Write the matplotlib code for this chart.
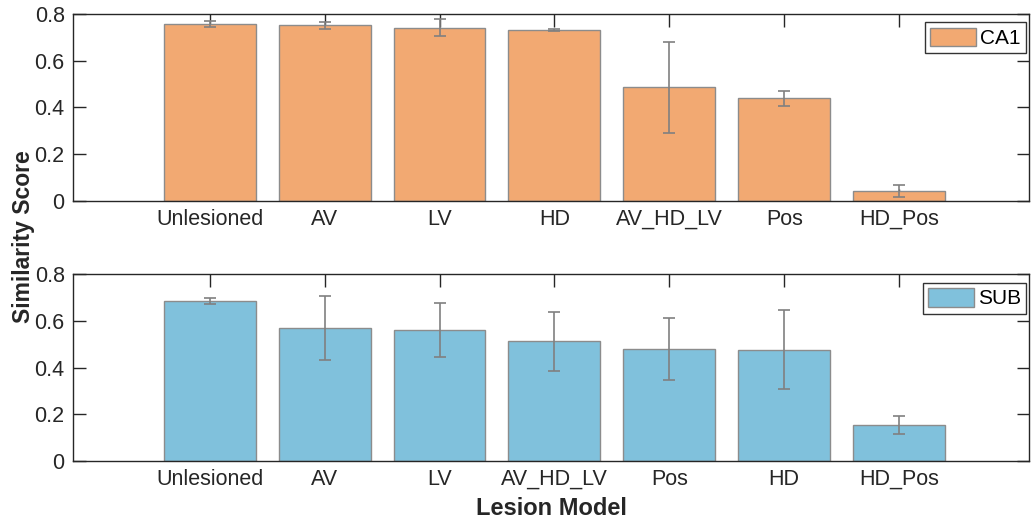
import numpy as np
import matplotlib.pyplot as plt

plt.rcParams['font.family'] = ['Liberation Sans', 'DejaVu Sans']

# CA1 data
ca1_labels = ['Unlesioned', 'AV', 'LV', 'HD', 'AV_HD_LV', 'Pos', 'HD_Pos']
ca1_mean = [0.757, 0.753, 0.742, 0.733, 0.487, 0.439, 0.040]
ca1_err = [0.014, 0.015, 0.035, 0.004, 0.195, 0.032, 0.026]

# SUB data
sub_labels = ['Unlesioned', 'AV', 'LV', 'AV_HD_LV', 'Pos', 'HD', 'HD_Pos']
sub_mean = [0.687, 0.570, 0.561, 0.513, 0.479, 0.477, 0.153]
sub_err = [0.013, 0.138, 0.116, 0.126, 0.134, 0.171, 0.038]

fig = plt.figure(figsize=(10.31, 5.2), dpi=100)
ax1 = fig.add_axes([0.0708, 0.614, 0.9272, 0.359])
ax2 = fig.add_axes([0.0708, 0.114, 0.9272, 0.3585])

txt = '#262626'


def panel(ax, labels, mean, err, color, name):
    x = np.arange(1, len(labels) + 1)
    ax.bar(x, mean, width=0.8, color=color, edgecolor='#8c8c8c',
           linewidth=1.0, label=name, zorder=2)
    ax.errorbar(x, mean, yerr=err, fmt='none', ecolor='#808080',
                elinewidth=1.2, capsize=4, capthick=1.2, zorder=3)
    ax.set_xlim(-0.19, 8.13)
    ax.set_ylim(0, 0.8)
    ax.set_xticks(x)
    ax.set_xticklabels(labels)
    ax.set_yticks([0, 0.2, 0.4, 0.6, 0.8])
    ax.set_yticklabels(['0', '0.2', '0.4', '0.6', '0.8'])
    ax.tick_params(direction='in', length=9, width=1, colors=txt,
                   labelsize=15.5, top=True, right=True, pad=6)
    for s in ax.spines.values():
        s.set_color(txt)
        s.set_linewidth(1.0)
    leg = ax.legend(loc='upper right', bbox_to_anchor=(0.997, 0.955),
                    fontsize=15, frameon=True, fancybox=False,
                    edgecolor='black', handlelength=2.2, handleheight=1.0,
                    handletextpad=0.2, borderpad=0.25, borderaxespad=0)
    leg.get_frame().set_linewidth(1.0)


panel(ax1, ca1_labels, ca1_mean, ca1_err, '#f2a972', 'CA1')
panel(ax2, sub_labels, sub_mean, sub_err, '#80c1dc', 'SUB')

fig.text(0.023, 0.544, 'Similarity Score', rotation=90, ha='center',
         va='center', fontsize=16.5, fontweight='bold', color=txt)
ax2.set_xlabel('Lesion Model', fontsize=17, fontweight='bold', color=txt,
               labelpad=5)

fig.savefig('out.png', dpi=100)
